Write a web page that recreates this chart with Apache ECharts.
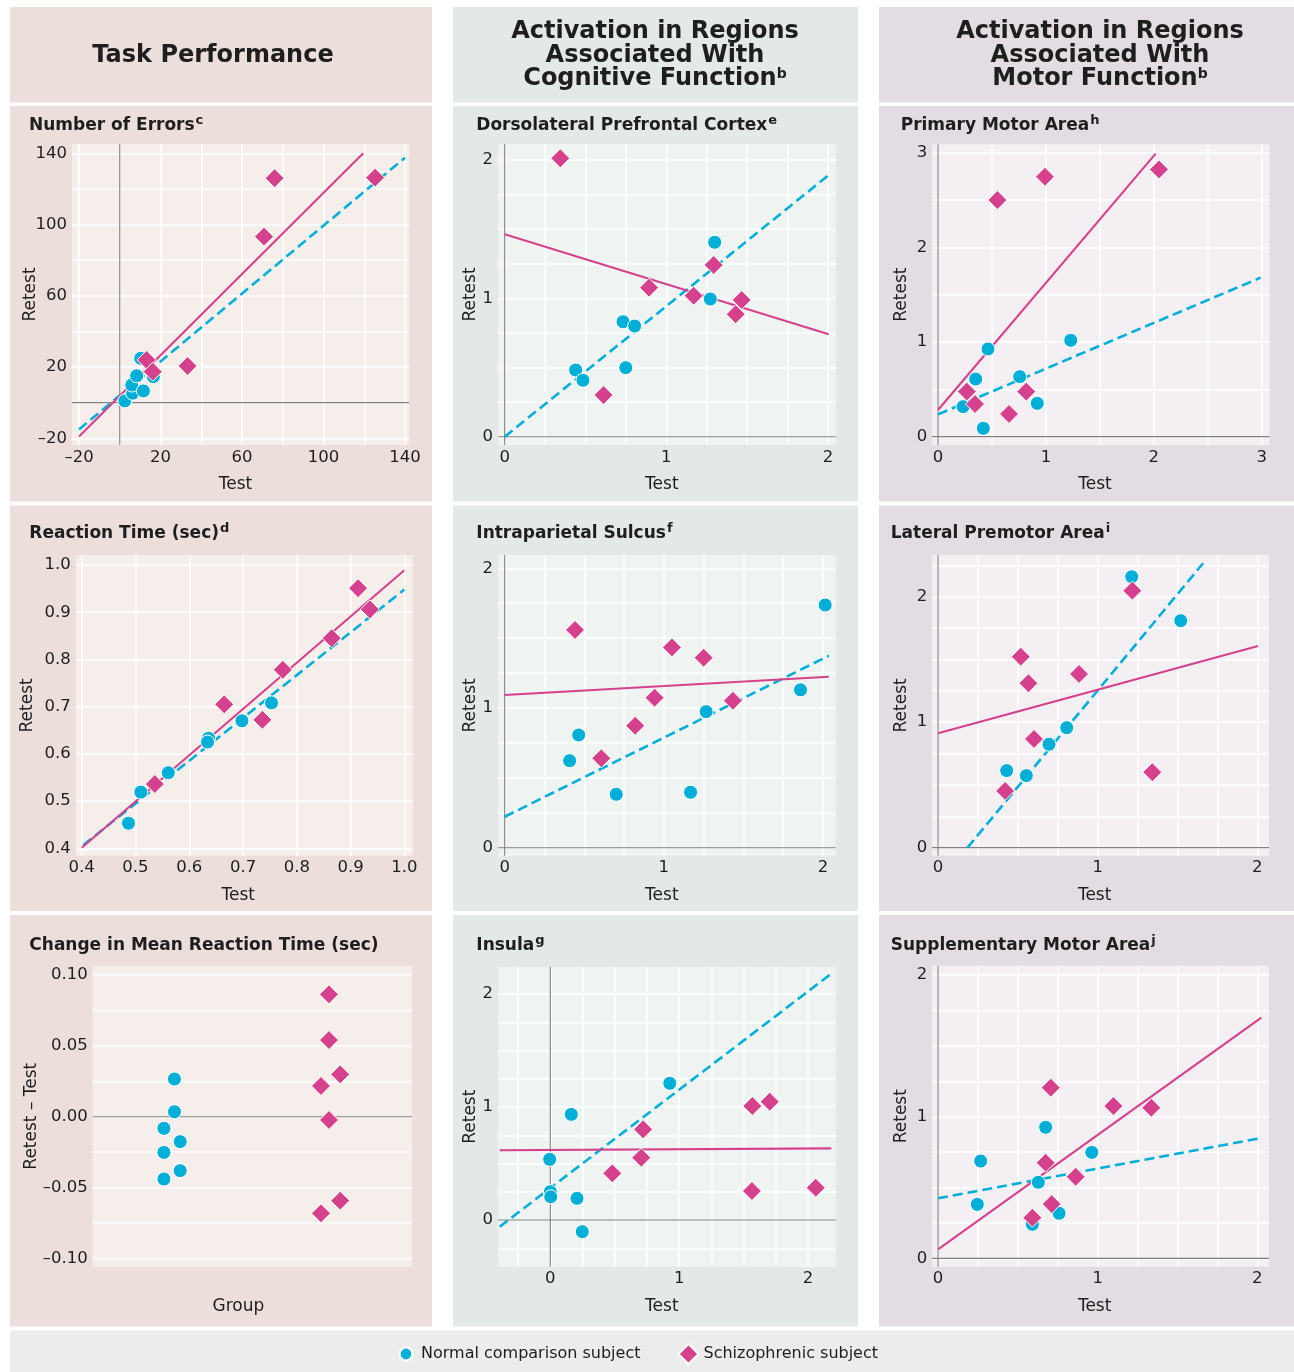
<!DOCTYPE html>
<html><head><meta charset="utf-8">
<script src="https://cdn.jsdelivr.net/npm/echarts@6/dist/echarts.min.js"></script>
<style>html,body{margin:0;padding:0;background:#fff}#c{width:1294px;height:1372px}</style>
</head><body><div id="c"></div>
<script>
// ================= DATA =================
// [test, retest] pairs; fit lines given by two endpoints
// --- Number of Errors ---
const errorsNormal = [[2.5,1],[6.3,5.3],[5.9,9.9],[11.6,6.6],[8.3,15.1],[10.3,24.9],[16.5,14.6]];
const errorsSchiz  = [[76,126],[125.3,126.3],[70.8,93.2],[33.3,20.6],[13.2,24],[16.2,17.4]];
const errorsNormalFit = [[-20,-15],[140,137.5]];
const errorsSchizFit  = [[-20,-19],[119.5,140]];
const errorsGridValues = [-20,0,20,40,60,80,100,120,140];
const errorsTickLabels = [-20,20,60,100,140];

// --- Reaction Time (sec) ---
const rtNormal = [[0.487,0.453],[0.510,0.519],[0.561,0.560],[0.636,0.633],[0.634,0.625],[0.698,0.670],[0.753,0.708]];
const rtSchiz  = [[0.536,0.536],[0.665,0.705],[0.736,0.672],[0.774,0.778],[0.865,0.845],[0.914,0.951],[0.936,0.906]];
const rtNormalFit = [[0.403,0.407],[1.0,0.948]];
const rtSchizFit  = [[0.4,0.401],[1.0,0.989]];
const rtTickLabels = [0.4,0.5,0.6,0.7,0.8,0.9,1.0];

// --- Change in Mean Reaction Time (sec): [group position, retest - test] ---
const rtChangeNormal = [[0.256,0.0266],[0.256,0.0035],[0.223,-0.0082],[0.274,-0.0176],[0.223,-0.0252],[0.274,-0.0381],[0.223,-0.044]];
const rtChangeSchiz  = [[0.740,0.0864],[0.740,0.0541],[0.775,0.0299],[0.715,0.0217],[0.740,-0.0023],[0.775,-0.0593],[0.715,-0.0682]];
const rtChangeGridValues = [-0.1,-0.075,-0.05,-0.025,0,0.025,0.05,0.075,0.1];
const rtChangeTickLabels = [-0.1,-0.05,0,0.05,0.1];

// --- Dorsolateral Prefrontal Cortex ---
const dlpfcNormal = [[1.299,1.405],[1.272,0.995],[0.732,0.831],[0.804,0.80],[0.749,0.499],[0.439,0.482],[0.484,0.408]];
const dlpfcSchiz  = [[0.344,2.012],[0.893,1.077],[1.293,1.241],[1.169,1.019],[1.466,0.988],[1.429,0.885],[0.612,0.301]];
const dlpfcNormalFit = [[0,0],[2.01,1.897]];
const dlpfcSchizFit  = [[0,1.463],[2.004,0.740]];

// --- Intraparietal Sulcus ---
const ipsNormal = [[2.014,1.737],[1.859,1.13],[1.266,0.974],[0.465,0.807],[0.408,0.623],[0.701,0.382],[1.168,0.397]];
const ipsSchiz  = [[0.442,1.559],[1.051,1.434],[1.25,1.36],[0.942,1.074],[1.434,1.052],[0.820,0.873],[0.607,0.64]];
const ipsNormalFit = [[0,0.222],[2.037,1.374]];
const ipsSchizFit  = [[0,1.093],[2.037,1.224]];

// --- Insula ---
const insulaNormal = [[0.927,1.21],[0.163,0.935],[-0.005,0.537],[0.0,0.251],[0.003,0.206],[0.207,0.192],[0.248,-0.103]];
const insulaSchiz  = [[1.568,1.009],[1.703,1.047],[0.720,0.803],[0.706,0.552],[0.481,0.413],[1.565,0.257],[2.06,0.286]];
const insulaNormalFit = [[-0.393,-0.059],[2.194,2.192]];
const insulaSchizFit  = [[-0.393,0.617],[2.181,0.634]];
const insulaGridValues = [-0.25,0,0.25,0.5,0.75,1,1.25,1.5,1.75,2];

// --- Primary Motor Area ---
const pmaNormal = [[0.463,0.926],[1.230,1.018],[0.349,0.609],[0.757,0.634],[0.232,0.317],[0.920,0.352],[0.420,0.088]];
const pmaSchiz  = [[0.550,2.50],[0.991,2.746],[2.048,2.824],[0.266,0.476],[0.343,0.345],[0.818,0.476],[0.658,0.24]];
const pmaNormalFit = [[0,0.236],[2.99,1.68]];
const pmaSchizFit  = [[0,0.282],[2.017,2.99]];
const pmaGridValues = [0,0.5,1,1.5,2,2.5,3];
const pmaTickLabels = [0,1,2,3];

// --- Lateral Premotor Area ---
const lpaNormal = [[1.213,2.159],[1.520,1.809],[0.806,0.956],[0.695,0.824],[0.430,0.614],[0.553,0.574]];
const lpaSchiz  = [[1.217,2.048],[0.518,1.522],[0.566,1.31],[0.883,1.384],[0.601,0.866],[0.420,0.452],[1.342,0.601]];
const lpaNormalFit = [[0.184,0],[1.66,2.266]];
const lpaSchizFit  = [[0,0.911],[2.004,1.607]];
const lpaYGridValues = [0,0.25,0.5,0.75,1,1.25,1.5,1.75,2,2.25];

// --- Supplementary Motor Area ---
const smaNormal = [[0.674,0.925],[0.963,0.748],[0.267,0.687],[0.628,0.537],[0.246,0.381],[0.758,0.318],[0.591,0.24]];
const smaSchiz  = [[0.706,1.205],[1.098,1.075],[1.336,1.063],[0.674,0.675],[0.862,0.576],[0.712,0.383],[0.591,0.287]];
const smaNormalFit = [[0,0.424],[2.031,0.851]];
const smaSchizFit  = [[0,0.064],[2.025,1.699]];

const quarterGridValues = [0,0.25,0.5,0.75,1,1.25,1.5,1.75,2];
const unitTickLabels = [0,1,2];
const legendNames = ['Normal comparison subject','Schizophrenic subject'];

// ================= STYLE / LAYOUT =================
const BLUE = '#00afd8', PINK = '#d5418c';
const FONT = 'DejaVu Sans';
const TXT = '#1e1e1e';
const cols = [
  {x:10,  w:422, bg:'#ecdfdb', plot:'#f6eeea', hx:213},
  {x:453, w:405, bg:'#e3e9e7', plot:'#eff4f2', hx:655},
  {x:879, w:415, bg:'#e3dce2', plot:'#f3eff3', hx:1100}
];
const rows = [{y:106,h:395.5},{y:505.5,h:405.5},{y:915,h:411.5}];
const headers = [
  '{h|Task Performance}',
  '{h|Activation in Regions}\n{h|Associated With}\n{h|Cognitive Function}{s|b}',
  '{h|Activation in Regions}\n{h|Associated With}\n{h|Motor Function}{s|b}'
];
const minus = v => (v < 0 ? '\u2013' : '') + Math.abs(v);
const f1 = v => v.toFixed(1);
const f2 = v => (v < 0 ? '\u2013' : '') + Math.abs(v).toFixed(2);

const panels = [
  {col:0,row:0,title:'Number of Errors',sup:'c',tx:29,ty:124.1,g:[72,144,337,301],xr:[-23.44,141.96],yr:[-23.76,145.2],
   xs:errorsGridValues,ys:errorsGridValues,xl:errorsTickLabels,yl:errorsTickLabels,fx:minus,fy:minus,
   n:errorsNormal,s:errorsSchiz,nf:errorsNormalFit,sf:errorsSchizFit,zero:true,yGap:33,xName:'Test',yName:'Retest',xPad:10},
  {col:1,row:0,title:'Dorsolateral Prefrontal Cortex',sup:'e',tx:476.3,ty:124.1,g:[498,144,337.7,301],xr:[-0.0414,2.0476],yr:[-0.06,2.1157],
   xs:quarterGridValues,ys:quarterGridValues,xl:unitTickLabels,yl:unitTickLabels,fx:String,fy:String,
   n:dlpfcNormal,s:dlpfcSchiz,nf:dlpfcNormalFit,sf:dlpfcSchizFit,zero:true,yGap:18.5,xName:'Test',yName:'Retest',xPad:10},
  {col:2,row:0,title:'Primary Motor Area',sup:'h',tx:900.7,ty:124.1,g:[932.3,144.3,337.4,300.7],xr:[-0.053,3.074],yr:[-0.088,3.089],
   xs:pmaGridValues,ys:pmaGridValues,xl:pmaTickLabels,yl:pmaTickLabels,fx:String,fy:String,
   n:pmaNormal,s:pmaSchiz,nf:pmaNormalFit,sf:pmaSchizFit,zero:true,yGap:22.6,xName:'Test',yName:'Retest',xPad:12},
  {col:0,row:1,title:'Reaction Time (sec)',sup:'d',tx:29.3,ty:532.4,g:[75.7,555,337,300.7],xr:[0.3888,1.0156],yr:[0.3843,1.0212],
   xs:rtTickLabels,ys:rtTickLabels,xl:rtTickLabels,yl:rtTickLabels,fx:f1,fy:f1,
   n:rtNormal,s:rtSchiz,nf:rtNormalFit,sf:rtSchizFit,zero:false,yGap:40,xName:'Test',yName:'Retest',xPad:12},
  {col:1,row:1,title:'Intraparietal Sulcus',sup:'f',tx:476.3,ty:532.4,g:[498,555,337.7,300.7],xr:[-0.042,2.08],yr:[-0.057,2.095],
   xs:quarterGridValues,ys:quarterGridValues,xl:unitTickLabels,yl:unitTickLabels,fx:String,fy:String,
   n:ipsNormal,s:ipsSchiz,nf:ipsNormalFit,sf:ipsSchizFit,zero:true,yGap:19.3,xName:'Test',yName:'Retest',xPad:10},
  {col:2,row:1,title:'Lateral Premotor Area',sup:'i',tx:890.7,ty:532.4,g:[932.3,555,336.7,300.7],xr:[-0.036,2.073],yr:[-0.064,2.332],
   xs:quarterGridValues,ys:lpaYGridValues,xl:unitTickLabels,yl:unitTickLabels,fx:String,fy:String,
   n:lpaNormal,s:lpaSchiz,nf:lpaNormalFit,sf:lpaSchizFit,zero:true,yGap:22.6,xName:'Test',yName:'Retest',xPad:12},
  {col:0,row:2,title:'Change in Mean Reaction Time (sec)',sup:'',tx:29.3,ty:944.1,g:[92.7,965.7,319.3,301],xr:[0,1],yr:[-0.1059,0.1066],
   xs:[],ys:rtChangeGridValues,xl:[],yl:rtChangeTickLabels,fx:String,fy:f2,
   n:rtChangeNormal,s:rtChangeSchiz,nf:null,sf:null,zero:'y',yGap:53,xName:'Group',yName:'Retest \u2013 Test',xPad:28},
  {col:1,row:2,title:'Insula',sup:'g',tx:476.3,ty:944.1,g:[498,966.7,337.7,300],xr:[-0.406,2.215],yr:[-0.413,2.242],
   xs:insulaGridValues,ys:insulaGridValues,xl:unitTickLabels,yl:unitTickLabels,fx:String,fy:String,
   n:insulaNormal,s:insulaSchiz,nf:insulaNormalFit,sf:insulaSchizFit,zero:true,yGap:19.3,xName:'Test',yName:'Retest',xPad:10},
  {col:2,row:2,title:'Supplementary Motor Area',sup:'j',tx:890.7,ty:944.1,g:[932.3,965.7,336.7,301],xr:[-0.036,2.073],yr:[-0.059,2.066],
   xs:quarterGridValues,ys:quarterGridValues,xl:unitTickLabels,yl:unitTickLabels,fx:String,fy:String,
   n:smaNormal,s:smaSchiz,nf:smaNormalFit,sf:smaSchizFit,zero:true,yGap:22.6,xName:'Test',yName:'Retest',xPad:12}
];

// ================= BUILD OPTION =================
const labelStyle = {fontFamily:FONT, fontSize:16.5, color:TXT};
const nameStyle = {fontFamily:FONT, fontSize:17, color:TXT};
const grids = [], xAxes = [], yAxes = [], series = [];
const elements = [];

cols.forEach(c => {
  elements.push({type:'rect', z:-10, shape:{x:c.x, y:7, width:c.w, height:95.5}, style:{fill:c.bg}, silent:true});
  rows.forEach(r => elements.push({type:'rect', z:-10, shape:{x:c.x, y:r.y, width:c.w, height:r.h}, style:{fill:c.bg}, silent:true}));
});
elements.push({type:'rect', z:-10, shape:{x:10, y:1330.5, width:1284, height:41.5}, style:{fill:'#ececec'}, silent:true});

headers.forEach((h, i) => {
  elements.push({type:'text', z:100, silent:true, style:{
    text:h, x:cols[i].hx, y:55.7, textAlign:'center', textVerticalAlign:'middle', verticalAlign:'middle',
    rich:{
      h:{fontFamily:FONT, fontWeight:'bold', fontSize:24, lineHeight:23.3, fill:TXT, verticalAlign:'bottom'},
      s:{fontFamily:FONT, fontWeight:'bold', fontSize:14, lineHeight:15, fill:TXT, verticalAlign:'top'}
    }}});
});

panels.forEach((p, i) => {
  elements.push({type:'text', z:100, silent:true, style:{
    text:'{t|' + p.title + '}' + (p.sup ? '{s|' + p.sup + '}' : ''),
    x:p.tx, y:p.ty, textAlign:'left', textVerticalAlign:'middle', verticalAlign:'middle',
    rich:{
      t:{fontFamily:FONT, fontWeight:'bold', fontSize:17, lineHeight:20, fill:TXT, verticalAlign:'bottom'},
      s:{fontFamily:FONT, fontWeight:'bold', fontSize:13, lineHeight:13, fill:TXT, verticalAlign:'top', padding:[0,0,0,1]}
    }}});

  grids.push({left:p.g[0], top:p.g[1], width:p.g[2], height:p.g[3], show:true,
    backgroundColor:cols[p.col].plot, borderWidth:0, containLabel:false, outerBoundsMode:'none'});

  xAxes.push({gridIndex:i, type:'value', min:p.xr[0], max:p.xr[1],
    axisLine:{show:false, onZero:false}, axisTick:{show:false, customValues:p.xs},
    splitLine:{show:p.xs.length > 0, lineStyle:{color:'#ffffff', width:1.5}},
    axisLabel:{show:p.xl.length > 0, customValues:p.xl, margin:4, formatter:p.fx, ...labelStyle},
    name:p.xName, nameLocation:'middle', nameGap:31, nameMoveOverlap:false,
    nameTextStyle:{...nameStyle, padding:[0,p.xPad,0,0]}});

  yAxes.push({gridIndex:i, type:'value', min:p.yr[0], max:p.yr[1],
    axisLine:{show:false, onZero:false}, axisTick:{show:false, customValues:p.ys},
    splitLine:{show:true, lineStyle:{color:'#ffffff', width:1.5}},
    axisLabel:{show:true, customValues:p.yl, margin:5, formatter:p.fy, ...labelStyle},
    name:p.yName, nameLocation:'middle', nameGap:p.yGap, nameRotate:90, nameMoveOverlap:false,
    nameTextStyle:{...nameStyle}});

  const zeroStyle = {color:'#7f7f7f', width:1.1};
  if (p.zero === true) {
    series.push({type:'line', name:'zeroX' + i, xAxisIndex:i, yAxisIndex:i, data:[[0,p.yr[0]],[0,p.yr[1]]],
      symbol:'none', silent:true, z:1, lineStyle:zeroStyle});
  }
  if (p.zero) {
    series.push({type:'line', name:'zeroY' + i, xAxisIndex:i, yAxisIndex:i, data:[[p.xr[0],0],[p.xr[1],0]],
      symbol:'none', silent:true, z:1, lineStyle:zeroStyle});
  }
  if (p.nf) series.push({type:'line', name:'fitN' + i, xAxisIndex:i, yAxisIndex:i, data:p.nf, symbol:'none', silent:true, z:2,
    lineStyle:{color:BLUE, width:2.6, type:[10,5]}});
  if (p.sf) series.push({type:'line', name:'fitS' + i, xAxisIndex:i, yAxisIndex:i, data:p.sf, symbol:'none', silent:true, z:2,
    lineStyle:{color:PINK, width:2.1}});
  series.push({type:'scatter', name:legendNames[0], xAxisIndex:i, yAxisIndex:i, data:p.n, symbol:'circle', symbolSize:14, z:3,
    itemStyle:{color:BLUE, borderColor:'#ffffff', borderWidth:1, opacity:1}});
  series.push({type:'scatter', name:legendNames[1], xAxisIndex:i, yAxisIndex:i, data:p.s, symbol:'diamond', symbolSize:19, z:4,
    itemStyle:{color:PINK, borderColor:'#ffffff', borderWidth:1, opacity:1}});
});

const circleIcon = 'path://M0,0M20,20M10,3.6A6.4,6.4,0,1,1,10,16.4A6.4,6.4,0,1,1,10,3.6Z';

const option = {
  backgroundColor:'#ffffff',
  animation:false,
  graphic:{elements},
  legend:{
    data:[{name:legendNames[0], icon:circleIcon}, {name:legendNames[1], icon:'diamond'}],
    left:390, top:1338, itemWidth:20, itemHeight:20, itemGap:37, selectedMode:false,
    textStyle:{fontFamily:FONT, fontSize:16, color:TXT}
  },
  grid:grids, xAxis:xAxes, yAxis:yAxes, series
};

const chart = echarts.init(document.getElementById('c'), null, {renderer:'canvas', width:1294, height:1372});
chart.setOption(option);
</script>
</body></html>
